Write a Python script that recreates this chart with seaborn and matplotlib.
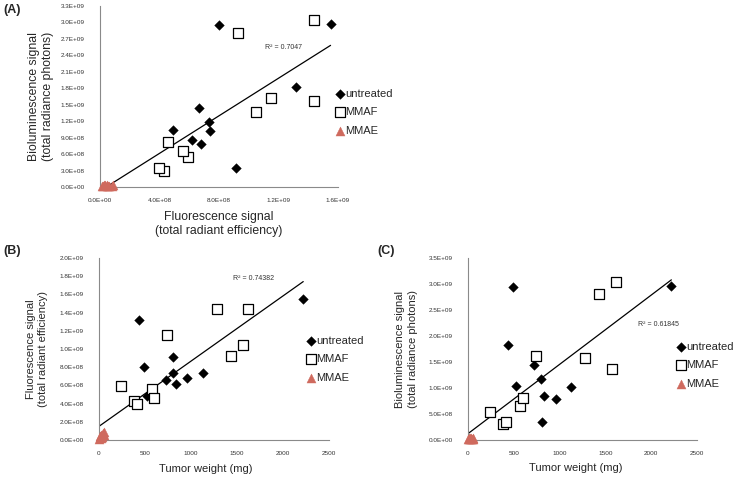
"""
Tumor imaging signals vs tumor weight, three panels (A, B, C)
"""
import numpy as np
import pandas as pd
import matplotlib
matplotlib.use("Agg")
import matplotlib.pyplot as plt
from matplotlib.ticker import FuncFormatter, MultipleLocator
import seaborn as sns

sns.set_style("white")
plt.rcParams['font.family'] = ['Liberation Sans', 'DejaVu Sans']

# --- data ---
# untreated tumors
untreated_weight = [438, 489, 522, 725, 801, 808, 833, 957, 1125, 2220]            # mg
untreated_fl = [13.2e8, 8.0e8, 4.88e8, 6.64e8, 7.34e8, 9.17e8, 6.2e8, 6.79e8, 7.41e8, 15.5e8]
untreated_bl = [18.2e8, 29.5e8, 10.4e8, 14.45e8, 11.8e8, 3.4e8, 8.48e8, 7.9e8, 10.2e8, 29.7e8]

# MMAF treated
mmaf_weight = [240, 380, 410, 572, 595, 740, 1280, 1435, 1570, 1615]
mmaf_fl = [5.94e8, 4.29e8, 3.96e8, 5.61e8, 4.59e8, 11.5e8, 14.4e8, 9.28e8, 10.46e8, 14.4e8]
mmaf_bl = [5.46e8, 3.0e8, 3.5e8, 6.55e8, 8.16e8, 16.2e8, 15.7e8, 28.1e8, 13.6e8, 30.4e8]

# MMAE treated (all close to zero)
mmae_weight = [3, 8, 12, 18, 25, 30, 38, 45, 52, 58]
mmae_fl = [0.15e8, 0.3e8, 0.45e8, 0.2e8, 0.5e8, 0.35e8, 0.6e8, 0.8e8, 0.55e8, 0.9e8]
mmae_bl = [0.1e8, 0.35e8, 0.2e8, 0.15e8, 0.4e8, 0.3e8, 0.1e8, 0.25e8, 0.2e8, 0.3e8]

groups = ['untreated', 'MMAF', 'MMAE']
r2_text = {'A': 'R² = 0.7047', 'B': 'R² = 0.74382', 'C': 'R² = 0.61845'}

df = pd.DataFrame({
    'group': ['untreated'] * len(untreated_weight) + ['MMAF'] * len(mmaf_weight) + ['MMAE'] * len(mmae_weight),
    'weight': untreated_weight + mmaf_weight + mmae_weight,
    'fl': untreated_fl + mmaf_fl + mmae_fl,
    'bl': untreated_bl + mmaf_bl + mmae_bl,
})

TRI_COLOR = '#CF6A5E'
SPINE = '#8a8a8a'
TICK_TXT = '#333333'

marker_kw = {
    'untreated': dict(marker='D', s=24, color='black', edgecolor='black', linewidth=0.3),
    'MMAF': dict(marker='s', s=50, color='white', edgecolor='black', linewidth=0.9),
    'MMAE': dict(marker='^', s=42, color=TRI_COLOR, edgecolor=TRI_COLOR, linewidth=0.3),
}

sci_fmt = FuncFormatter(lambda v, p: f"{v:.1E}")

fig = plt.figure(figsize=(7.39, 4.79), dpi=100)

W, H = 739.0, 479.0


def px_axes(left, right, top, bottom):
    return fig.add_axes([left / W, 1 - bottom / H, (right - left) / W, (bottom - top) / H])


def style_axes(ax):
    sns.despine(ax=ax)
    for side in ['left', 'bottom']:
        ax.spines[side].set_color(SPINE)
        ax.spines[side].set_linewidth(0.8)
    ax.tick_params(axis='both', which='major', direction='out', length=3, width=0.7,
                   color=SPINE, labelsize=4.6, labelcolor=TICK_TXT)
    ax.tick_params(axis='y', pad=8)
    ax.tick_params(axis='x', pad=5)


def draw_panel(ax, xcol, ycol):
    for g in groups:
        sub = df[df['group'] == g]
        sns.scatterplot(data=sub, x=xcol, y=ycol, ax=ax, label=g, clip_on=False,
                        zorder=3, **marker_kw[g])
    sns.regplot(data=df, x=xcol, y=ycol, ax=ax, scatter=False, ci=None, truncate=True,
                line_kws=dict(color='black', lw=0.9))


# (A) bioluminescence vs fluorescence
axA = px_axes(100, 338, 6, 187)
draw_panel(axA, 'fl', 'bl')
axA.set_xlim(0, 1.6e9)
axA.set_ylim(0, 3.3e9)
axA.xaxis.set_major_locator(MultipleLocator(4e8))
axA.yaxis.set_major_locator(MultipleLocator(3e8))
axA.xaxis.set_major_formatter(sci_fmt)
axA.yaxis.set_major_formatter(sci_fmt)
axA.set_xlabel('Fluorescence signal\n(total radiant efficiency)', fontsize=8.8, va='center', linespacing=1.25)
axA.set_ylabel('Bioluminescence signal\n(total radiance photons)', fontsize=8.8, va='center', linespacing=1.3)
axA.xaxis.set_label_coords(0.5, -0.205)
axA.yaxis.set_label_coords(-0.248, 0.5)
axA.text(0.693, 0.768, r2_text['A'], transform=axA.transAxes, fontsize=5, va='center', color='#333333')

# (B) fluorescence vs tumor weight
axB = px_axes(99, 329, 258, 440)
draw_panel(axB, 'weight', 'fl')
axB.set_xlim(0, 2500)
axB.set_ylim(0, 2.0e9)
axB.xaxis.set_major_locator(MultipleLocator(500))
axB.yaxis.set_major_locator(MultipleLocator(2e8))
axB.yaxis.set_major_formatter(sci_fmt)
axB.set_xlabel('Tumor weight (mg)', fontsize=8, va='center')
axB.set_ylabel('Fluorescence signal\n(total radiant efficiency)', fontsize=8, va='center', linespacing=1.3)
axB.xaxis.set_label_coords(0.465, -0.16)
axB.yaxis.set_label_coords(-0.27, 0.5)
axB.text(0.583, 0.885, r2_text['B'], transform=axB.transAxes, fontsize=5, va='center', color='#333333')

# (C) bioluminescence vs tumor weight
axC = px_axes(468, 697, 258, 440)
draw_panel(axC, 'weight', 'bl')
axC.set_xlim(0, 2500)
axC.set_ylim(0, 3.5e9)
axC.xaxis.set_major_locator(MultipleLocator(500))
axC.yaxis.set_major_locator(MultipleLocator(5e8))
axC.yaxis.set_major_formatter(sci_fmt)
axC.set_xlabel('Tumor weight (mg)', fontsize=8, va='center')
axC.set_ylabel('Bioluminescence signal\n(total radiance photons)', fontsize=8, va='center', linespacing=1.3)
axC.xaxis.set_label_coords(0.47, -0.155)
axC.yaxis.set_label_coords(-0.268, 0.5)
axC.text(0.741, 0.637, r2_text['C'], transform=axC.transAxes, fontsize=5, va='center', color='#333333')

legend_anchor = {axA: (337, 89), axB: (308, 336), axC: (678, 342)}
for ax in [axA, axB, axC]:
    style_axes(ax)
    ax.legend_.remove() if ax.legend_ else None
    handles, labels = ax.get_legend_handles_labels()
    x0, y0 = legend_anchor[ax]
    fig.legend(handles[:3], labels[:3], loc='upper left', bbox_to_anchor=(x0 / W, 1 - y0 / H),
               frameon=False, fontsize=8, borderpad=0, borderaxespad=0, handlelength=0.6,
               handletextpad=0.15, labelspacing=0.75)

fig.text(3 / W, 1 - 10 / H, '(A)', fontsize=9, fontweight='bold', va='center')
fig.text(3 / W, 1 - 251 / H, '(B)', fontsize=9, fontweight='bold', va='center')
fig.text(377 / W, 1 - 251 / H, '(C)', fontsize=9, fontweight='bold', va='center')

fig.savefig('out.png', dpi=100)
plt.close(fig)
